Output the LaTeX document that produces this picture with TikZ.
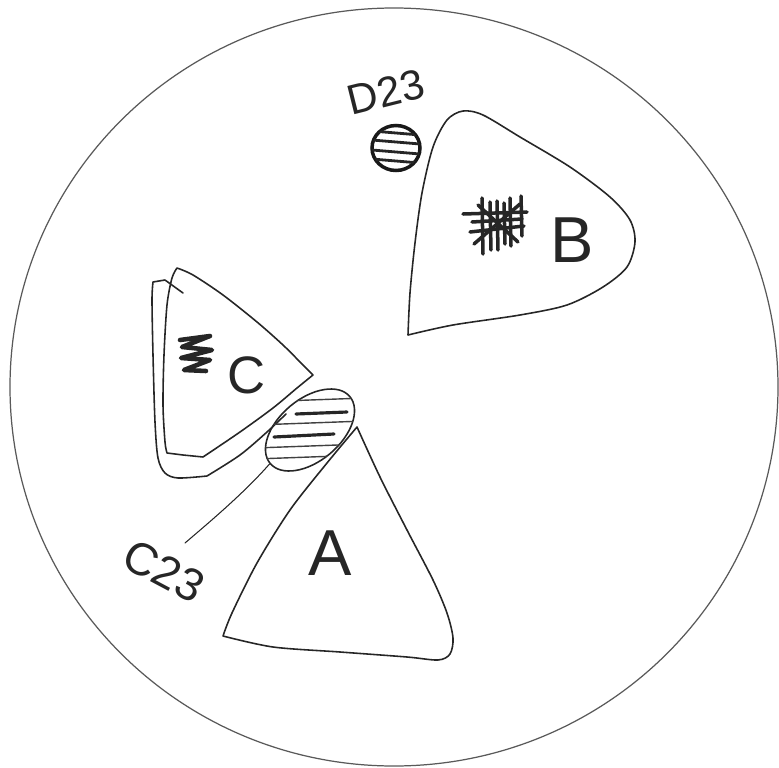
\documentclass[tikz,border=0pt]{standalone}
\usepackage{fontspec}
\setmainfont{Liberation Sans}
\usetikzlibrary{shapes.geometric}

\begin{document}
\begin{tikzpicture}[
    x=0.02cm,
    y=-0.02cm,
    outline/.style={draw=black!85,line width=0.9pt,line join=round,line cap=round},
    rim/.style={draw=black!65,line width=0.7pt},
    spot/.style={ellipse,draw=black!85,line width=0.9pt,inner sep=0pt},
    hatch/.style={draw=black!75,line width=0.8pt},
    hatchbold/.style={draw=black!85,line width=1.8pt,line cap=round},
    scrawl/.style={draw=black!85,line width=2pt,line join=round,line cap=round},
    tag/.style={inner sep=0pt,text=black!85}
]

\useasboundingbox (0,0) rectangle (779,768);

% dish
\draw[rim] (394,387) ellipse [x radius=384, y radius=379];

% sector B
\draw[outline] plot[smooth] coordinates {(408,335) (410,293) (415,243) (422,193)
    (433,147) (447,120) (463,111) (483,115) (520,137) (570,167) (610,197)
    (630,220) (635,242) (627,267) (603,287) (567,305) (520,315) (453,325) (408,335)};

% sector C, inner and outer line
\draw[outline] plot[smooth] coordinates {(313,375) (303,365) (283,345) (257,322)
    (223,295) (193,275) (177,268)}
    -- plot[smooth] coordinates {(177,268) (172,278) (167,305) (164,355) (163,405)
    (165,442) (167,453)}
    -- (183,455) -- (203,457)
    -- plot[smooth] coordinates {(203,457) (240,432) (273,408) (297,388) (313,375)};
\draw[outline] (183,293) -- (165,280) -- (153,282)
    -- plot[smooth] coordinates {(153,282) (152,300) (153,355) (155,422) (158,458)
    (165,473) (178,478) (207,476)}
    -- plot[smooth] coordinates {(207,476) (240,455) (267,432) (286,414)};

% sector A
\draw[outline] plot[smooth] coordinates {(357,427) (327,463) (290,510) (257,563)
    (232,613) (223,636)}
    -- plot[smooth] coordinates {(223,636) (273,647) (340,652) (407,657) (438,660)
    (450,654) (453,638) (447,613) (433,580) (407,530) (380,477) (357,427)};

% C23 spot
\node[spot,rotate=40,minimum width=2.08cm,minimum height=1.24cm] (c23spot) at (310,430) {};
\begin{scope}
    \clip[rotate around={40:(310,430)}] (310,430) ellipse [x radius=52, y radius=31];
    \foreach \y in {400,423,446,457}
        \draw[hatch] (255,\y+2) -- (365,\y-2);
    \draw[hatchbold] (296,414) -- (347,412);
    \draw[hatchbold] (274,437) -- (334,434);
\end{scope}

% D23 spot
\node[spot,line width=2pt,draw=black!90,minimum width=0.96cm,minimum height=0.9cm] (d23spot) at (396,148) {};
\begin{scope}
    \clip (396,148) ellipse [x radius=24, y radius=22.5];
    \foreach \y in {133,142,152,161}
        \draw[hatchbold,line width=1.6pt] (372,\y-2) -- (420,\y+2);
\end{scope}

% scribbles
\draw[scrawl] (463,214) -- (527,212);
\draw[scrawl] (470,232) -- (524,226);
\draw[scrawl] (472,222) -- (522,219);
\foreach \x/\t/\b in {482/198/254, 490/202/250, 497/201/250, 504/203/244, 510/198/246, 521/196/236}
    \draw[scrawl] (\x,\t) -- (\x+1,\b);
\draw[scrawl] (478,205) -- (518,242);
\draw[scrawl] (474,244) -- (520,204);
\draw[scrawl,line width=2.6pt] (180,340) -- (210,336) -- (182,347) -- (212,350)
    -- (181,358) -- (210,360) -- (184,370) -- (206,371);

% labels
\node[tag,font=\fontsize{24}{24}\selectfont,rotate=14] (d23lbl) at (386,92) {D23};
\node[tag,font=\fontsize{26}{26}\selectfont,rotate=-28] (c23lbl) at (164,571) {C23};
\node[tag,font=\fontsize{37}{37}\selectfont] (albl) at (330,553) {A};
\node[tag,font=\fontsize{37}{37}\selectfont] (blbl) at (572,240) {B};
\node[tag,font=\fontsize{30}{30}\selectfont] (clbl) at (247,375) {C};

\coordinate (c23tip) at (185,543);
\draw[outline,line width=0.6pt] (c23spot.west) .. controls (245,492) and (212,520) .. (c23tip);

\end{tikzpicture}
\end{document}
